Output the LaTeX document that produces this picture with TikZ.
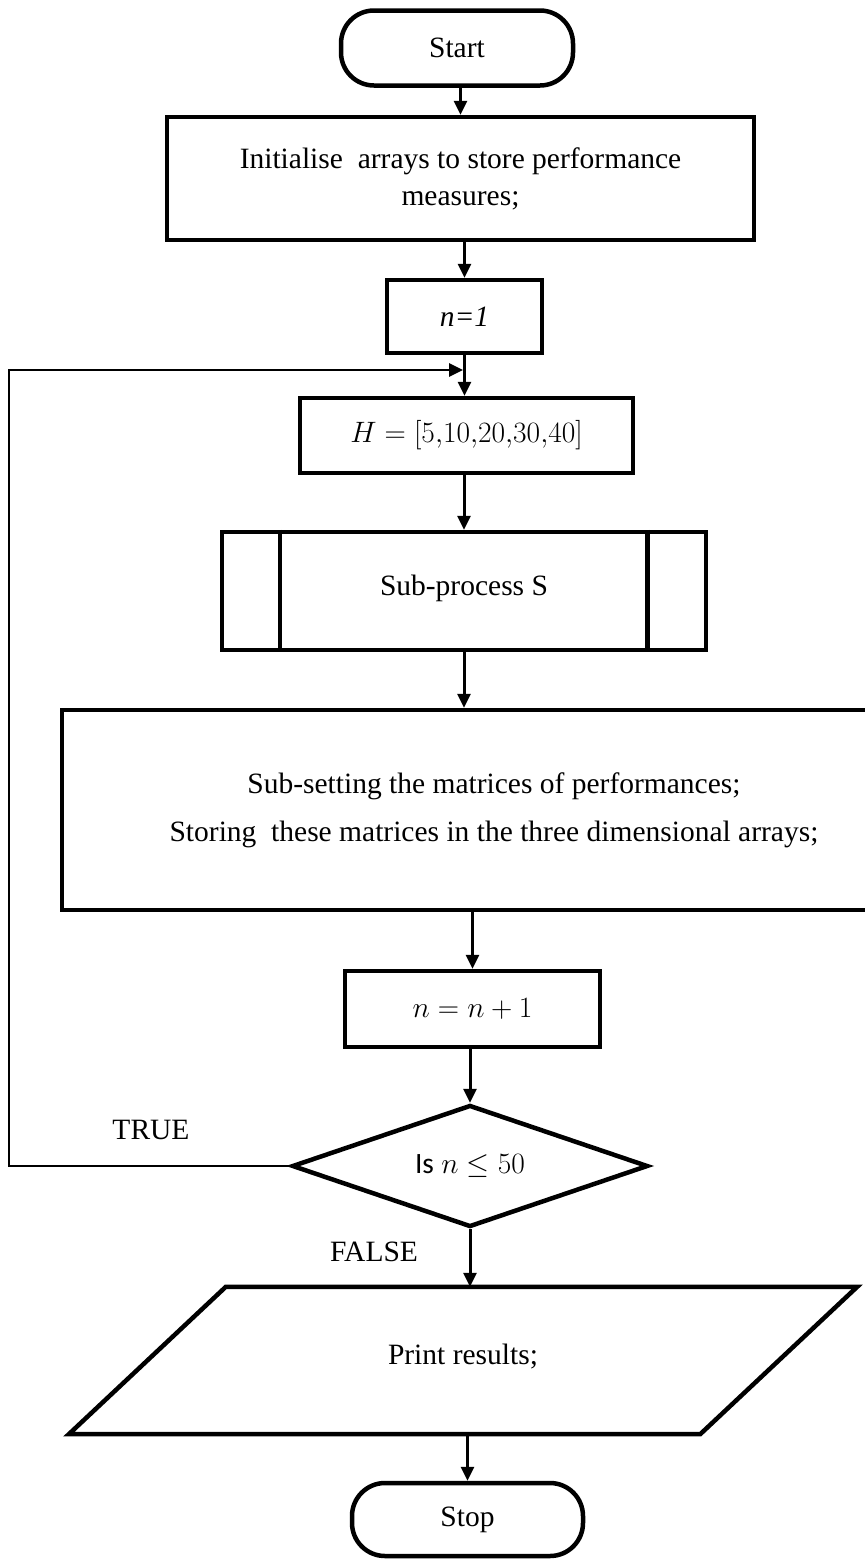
\RequirePackage{fix-cm}
\documentclass[tikz,border=0pt]{standalone}
\usepackage{fontspec}
\setmainfont{Liberation Serif}[ItalicFont={Liberation Serif Italic},BoldFont={Liberation Serif Bold}]
\newfontfamily\calibrifont{Carlito}
\usetikzlibrary{arrows.meta,shapes.geometric,calc}
\newcommand\figfont{\fontsize{29.5}{37}\selectfont}
\begin{document}
\begin{tikzpicture}[x=1pt,y=-1pt,
  box/.style={draw, line width=4.5pt, inner sep=0pt, align=center, font=\figfont},
  term/.style={box, rounded corners=33pt},
  arr/.style={line width=3pt, -{Triangle[length=14pt,width=13pt]}},
  lbl/.style={font=\figfont, inner sep=0pt}]
\useasboundingbox (0,0) rectangle (865,1564);
\begin{scope}
\clip (0,0) rectangle (865,1564);
% nodes
\node[term, minimum width=232, minimum height=75] (start) at (457,48) {Start};
\node[box, minimum width=587, minimum height=123] (init) at (460.5,178.5)
  {Initialise\ \ arrays to store performance\\measures;};
\node[box, minimum width=155, minimum height=73] (n1) at (464.5,316.5) {\textit{n=1}};
\node[box, minimum width=333, minimum height=75] (H) at (466.5,435.5) {$H=[5{,}10{,}20{,}30{,}40]$};
\node[box, minimum width=484, minimum height=118] (sub) at (464,591) {\raisebox{11pt}{Sub-process S}};
\draw[line width=4.5pt] ($(sub.north west)+(60,0)$) -- ($(sub.south west)+(60,0)$);
\draw[line width=4.5pt] ($(sub.north east)+(-61,0)$) -- ($(sub.south east)+(-61,0)$);
\node[box, minimum width=864, minimum height=200] (big) at (494,810)
  {Sub-setting\ the matrices of performances;\\[11pt]
   Storing\ \ these matrices in the three dimensional arrays;};
\node[box, minimum width=255, minimum height=76] (nn) at (472.5,1009) {$n=n+1$};
\node[diamond, draw, line width=4.5pt, inner sep=0pt, shape aspect=2.9,
  minimum width=356, minimum height=122, font=\figfont] (dec) at (470,1166)
  {{\calibrifont Is} $n\leq 50$};
\node[inner sep=0pt, minimum width=631, minimum height=147, font=\figfont] (print) at (463,1360.5)
  {\raisebox{12pt}{Print results;}};
\draw[line width=4.5pt, line join=miter]
  ($(print.north west)+(78.5,0)$) -- ($(print.north east)+(78.5,0)$)
  -- ($(print.south east)+(-78.5,0)$) -- ($(print.south west)+(-78.5,0)$) -- cycle;
\node[term, minimum width=231, minimum height=73] (stop) at (467.5,1519.5) {Stop};
\node[lbl] (true) at (151,1130) {TRUE};
\node[lbl] (false) at (374,1252) {FALSE};
% connectors
\draw[arr] (init.north |- start.south) -- (init.north);
\draw[arr] (n1.north |- init.south) -- (n1.north);
\draw[arr] (n1.south) -- (n1.south |- H.north);
\draw[arr] (sub.north |- H.south) -- (sub.north);
\draw[arr] (sub.south) -- (sub.south |- big.north);
\draw[arr] (nn.north |- big.south) -- (nn.north);
\draw[arr] (dec.north |- nn.south) -- (dec.north);
\draw[arr] (dec.south) -- (dec.south |- print.north);
\draw[arr] (stop.north |- print.south) -- (stop.north);
\coordinate (loopL) at (9,1166);
\coordinate (loopT) at (9,370);
\coordinate (join) at (463,370);
\draw[arr, line width=2.7pt] (dec.west) -- (loopL) -- (loopT) -- (join);
\end{scope}
\end{tikzpicture}
\end{document}
